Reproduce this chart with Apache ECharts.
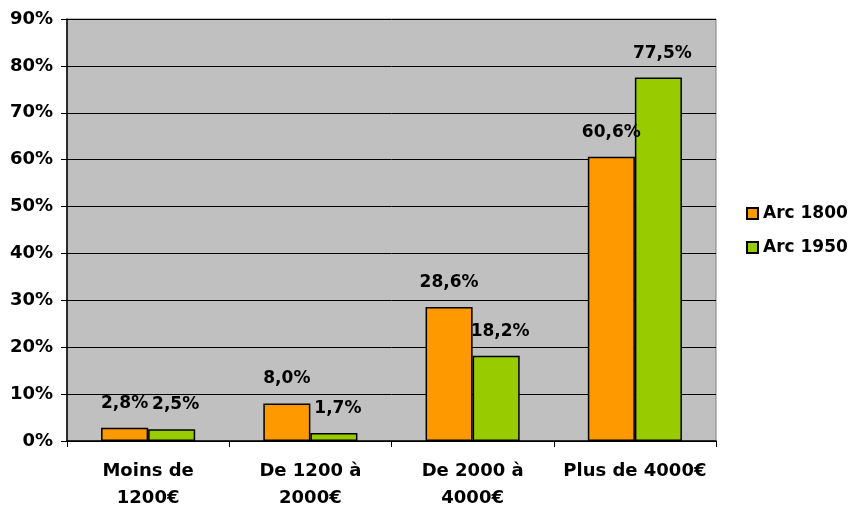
<!DOCTYPE html>
<html>
<head>
<meta charset="utf-8">
<script src="https://cdn.jsdelivr.net/npm/echarts@6/dist/echarts.min.js"></script>
<style>
  html, body { margin: 0; padding: 0; background: #fff; }
  #chart { width: 850px; height: 507px; }
</style>
</head>
<body>
<div id="chart"></div>
<script>
var categories = ['Moins de\n1200€', 'De 1200 à\n2000€', 'De 2000 à\n4000€', 'Plus de 4000€']
var arc1800 = [2.8, 8.0, 28.6, 60.6]
var arc1950 = [2.5, 1.7, 18.2, 77.5]
var seriesNames = ['Arc 1800', 'Arc 1950']

var font = 'DejaVu Sans, Liberation Sans, Arial, sans-serif'

function pct(p) {
	return p.value.toFixed(1).replace('.', ',') + '%'
}

function barSeries(name, data, color, dx) {
	return {
		name: name,
		type: 'bar',
		data: data,
		barGap: '0%',
		barCategoryGap: '42%',
		itemStyle: {
			color: color,
			borderColor: '#000',
			borderWidth: 1.5
		},
		label: {
			show: true,
			position: 'top',
			distance: 16,
			offset: [dx, 0],
			formatter: pct,
			color: '#000',
			fontFamily: font,
			fontWeight: 'bold',
			fontSize: 17
		}
	}
}

var chart = echarts.init(document.getElementById('chart'))
chart.setOption({
	animation: false,
	grid: {
		left: 67,
		right: 134,
		top: 19,
		bottom: 66,
		outerBoundsMode: 'none',
		containLabel: false,
		show: true,
		backgroundColor: '#c0c0c0',
		borderColor: '#808080',
		borderWidth: 1
	},
	legend: {
		orient: 'vertical',
		left: 741,
		top: 200,
		itemWidth: 11,
		itemHeight: 11,
		itemGap: 17,
		icon: 'rect',
		textStyle: {
			fontFamily: font,
			fontWeight: 'bold',
			fontSize: 17,
			color: '#000'
		},
		data: seriesNames
	},
	xAxis: {
		type: 'category',
		data: categories,
		axisLine: { lineStyle: { color: '#000', width: 1.5 } },
		axisTick: { show: true, length: 6, lineStyle: { color: '#000' } },
		axisLabel: {
			interval: 0,
			margin: 17,
			color: '#000',
			fontFamily: font,
			fontWeight: 'bold',
			fontSize: 18,
			lineHeight: 27
		}
	},
	yAxis: {
		type: 'value',
		min: 0,
		max: 90,
		interval: 10,
		axisLine: { show: true, lineStyle: { color: '#000', width: 1.5 } },
		axisTick: { show: true, length: 6, lineStyle: { color: '#000' } },
		splitLine: { lineStyle: { color: '#000', width: 1 } },
		axisLabel: {
			margin: 14,
			formatter: '{value}%',
			color: '#000',
			fontFamily: font,
			fontWeight: 'bold',
			fontSize: 18
		}
	},
	series: [
		barSeries(seriesNames[0], arc1800, '#ff9900', 0),
		barSeries(seriesNames[1], arc1950, '#99cc00', 4)
	]
})
</script>
</body>
</html>
